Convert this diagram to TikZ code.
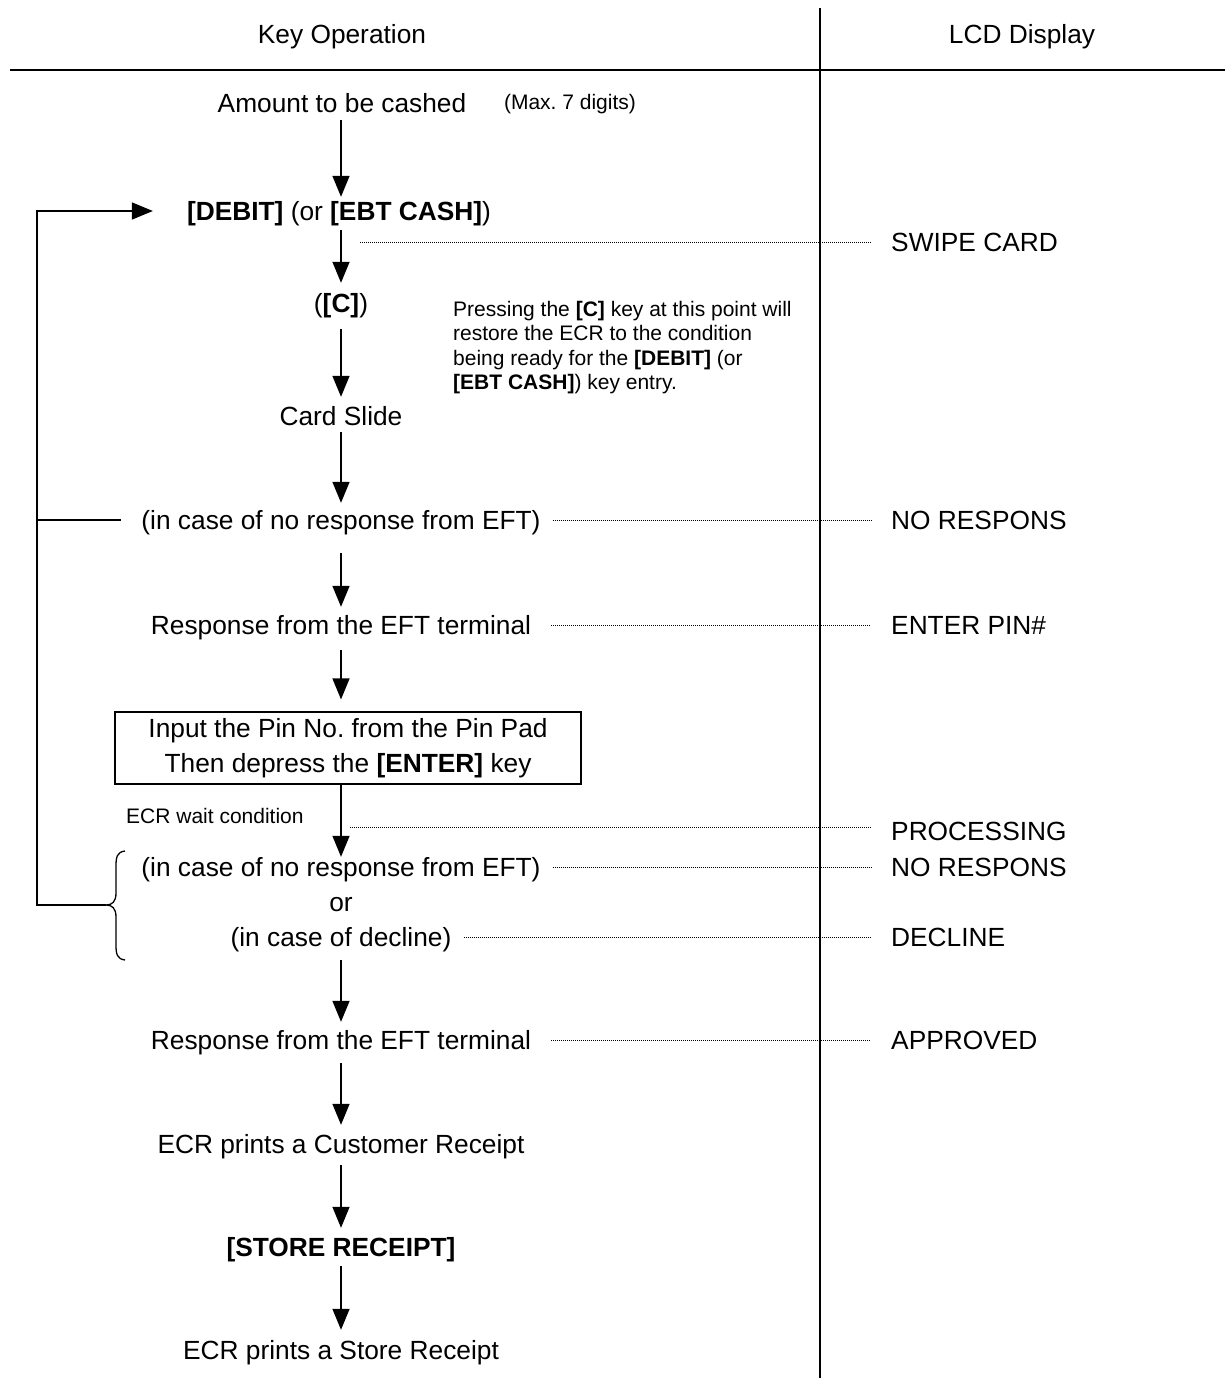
\documentclass[tikz,border=0pt]{standalone}
\usepackage{fontspec}
\setmainfont{Liberation Sans}
\usetikzlibrary{arrows.meta}
\frenchspacing
\begin{document}
\begin{tikzpicture}[x=1pt,y=-1pt,
 txt/.style={font=\fontsize{26.3}{30}\selectfont, inner sep=0pt, text height=21pt, text depth=3pt},
 lcd/.style={txt, anchor=west},
 sml/.style={font=\fontsize{21}{24.5}\selectfont, inner sep=0pt},
 arr/.style={line width=1.5pt, -{Triangle[width=17pt,length=21pt]}},
 ln/.style={line width=1.5pt},
 rule/.style={line width=2pt},
 dot/.style={line width=1pt, dash pattern=on 0.9pt off 1.1pt},
]
\useasboundingbox (0,0) rectangle (1225,1378);
% table frame
\coordinate (hl) at (10,70);
\coordinate (hr) at (1225,70);
\coordinate (vt) at (820,8);
\coordinate (vb) at (820,1378);
\draw[rule] (hl) -- (hr);
\draw[rule] (vt) -- (vb);
\node[txt] (hkey) at (342,35) {Key Operation};
\node[txt] (hlcd) at (1022,35) {LCD Display};

% key operation column
\node[txt] (amount) at (342,104) {Amount to be cashed};
\node[sml] (max) at (570,104) {(Max. 7 digits)};
\node[txt] (debit) at (339,211) {\textbf{[DEBIT]} (or \textbf{[EBT CASH]})};
\node[txt] (cbr) at (341,303) {(\textbf{[C]})};
\node[sml, anchor=north west, align=left] (note) at (453,301)
 {Pressing the \textbf{[C]} key at this point will\\
  restore the ECR to the condition\\
  being ready for the \textbf{[DEBIT]} (or\\
  \textbf{[EBT CASH]}) key entry.};
\node[txt] (card) at (341,416) {Card Slide};
\node[txt] (nr1) at (341,520) {(in case of no response from EFT)};
\node[txt] (resp1) at (341,625) {Response from the EFT terminal};
\node[txt, draw, line width=1.2pt, minimum width=466pt, minimum height=72pt,
      text height=, text depth=, align=center, font=\fontsize{26.3}{35}\selectfont]
      (pin) at (348,748) {Input the Pin No. from the Pin Pad\\Then depress the \textbf{[ENTER]} key};
\node[sml, anchor=west] (wait) at (126,816) {ECR wait condition};
\node[txt] (nr2) at (341,867) {(in case of no response from EFT)};
\node[txt] (or) at (341,902) {or};
\node[txt] (decl) at (341,937) {(in case of decline)};
\node[txt] (resp2) at (341,1040) {Response from the EFT terminal};
\node[txt] (cust) at (341,1144) {ECR prints a Customer Receipt};
\node[txt] (store) at (341,1247) {\textbf{[STORE RECEIPT]}};
\node[txt] (storep) at (341,1350) {ECR prints a Store Receipt};

% LCD column
\node[lcd] (swipe) at (891,242) {SWIPE CARD};
\node[lcd] (lnr1) at (891,520) {NO RESPONS};
\node[lcd] (lpin) at (891,625) {ENTER PIN\#};
\node[lcd] (lproc) at (891,831) {PROCESSING};
\node[lcd] (lnr2) at (891,867) {NO RESPONS};
\node[lcd] (ldecl) at (891,937) {DECLINE};
\node[lcd] (lappr) at (891,1040) {APPROVED};

% main arrows
\draw[arr, shorten <=4pt, shorten >=2pt] (amount.south -| cbr) -- (debit.north -| cbr);
\draw[arr, shorten <=7pt, shorten >=8pt] (debit.south -| cbr) -- (cbr.north);
\draw[arr, shorten <=7pt, shorten >=7pt] (cbr) ++(0,19) coordinate (c1) (c1) -- (card.north);
\draw[arr, shorten <=4pt, shorten >=5pt] (card.south) -- (nr1.north);
\draw[arr, shorten <=21pt, shorten >=6pt] (nr1.south) -- (resp1.north);
\draw[arr, shorten <=13pt, shorten >=12pt] (resp1.south) -- (pin.north -| resp1);
\draw[arr, shorten >=-2pt] (pin.south -| nr2) -- (nr2.north);
\draw[arr, shorten <=11pt, shorten >=6pt] (decl.south) -- (resp2.north);
\draw[arr, shorten <=11pt, shorten >=7pt] (resp2.south) -- (cust.north);
\draw[arr, shorten <=9pt, shorten >=7pt] (cust.south) -- (store.north);
\draw[arr, shorten <=7pt, shorten >=8pt] (store.south) -- (storep.north);

% dotted leaders
\coordinate (sw) at (360,242);
\draw[dot] (sw) -- ([xshift=-20pt]swipe.west);
\draw[dot] ([xshift=12pt]nr1.east) -- ([xshift=-20pt]lnr1.west);
\draw[dot] ([xshift=20pt]resp1.east) -- ([xshift=-20pt]lpin.west);
\coordinate (pr) at (350,827);
\draw[dot] (pr) -- ([xshift=-20pt]lproc.west |- pr);
\draw[dot] ([xshift=12pt]nr2.east) -- ([xshift=-20pt]lnr2.west);
\draw[dot] ([xshift=12pt]decl.east) -- ([xshift=-20pt]ldecl.west);
\draw[dot] ([xshift=20pt]resp2.east) -- ([xshift=-20pt]lappr.west);

% brace
\coordinate (bt) at (125,851);
\coordinate (bm) at (106,905);
\coordinate (bb) at (125,960);
\draw[line width=1.3pt] (bt) .. controls (117,852) and (116,857) .. (116,866)
  -- (116,893) .. controls (116,902) and (112,905) .. (bm)
  .. controls (112,905) and (116,908) .. (116,917)
  -- (116,945) .. controls (116,954) and (117,959) .. (bb);

% return loop
\coordinate (lb) at (37,905);
\coordinate (lt) at (37,211);
\coordinate (lm) at (37,520);
\draw[arr] (bm) -- (lb) -- (lt) -- ([xshift=-34pt]debit.west);
\draw[ln] (lm) -- ([xshift=-20pt]nr1.west);
\end{tikzpicture}
\end{document}
